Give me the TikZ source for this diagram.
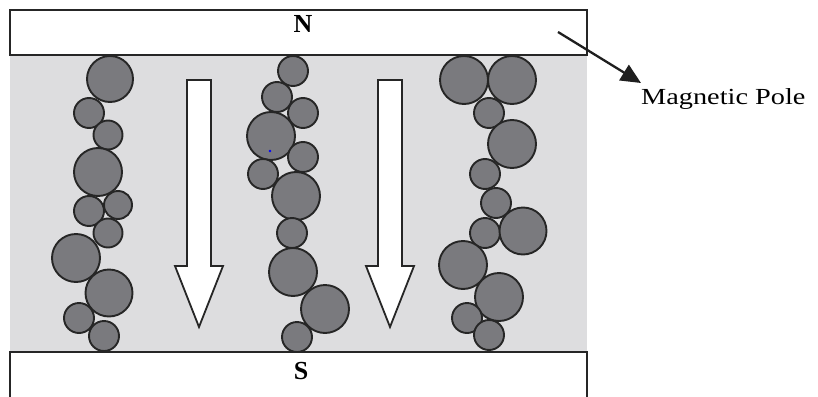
\documentclass[tikz,border=0pt]{standalone}
\usepackage{fontspec}
\setmainfont{Liberation Serif}
\usetikzlibrary{arrows.meta}
\definecolor{fluid}{RGB}{221,221,223}
\definecolor{particle}{RGB}{122,122,126}
\definecolor{edge}{RGB}{38,38,38}
\tikzset{
  x=1pt, y=-1pt,
  polebar/.style={draw=edge, line width=2pt, fill=white},
  ball/.style={draw=edge, line width=1.9pt, fill=particle},
  flowarrow/.style={draw=edge, line width=1.8pt, fill=white, line join=miter},
  polelabel/.style={font=\fontsize{26}{26}\selectfont\bfseries, inner sep=0pt},
  sidelabel/.style={font=\fontsize{23}{23}\selectfont, inner sep=0pt, anchor=west},
  leader/.style={draw=black!88, line width=2.3pt, -{Triangle[length=20pt,width=18pt]}}
}
\begin{document}
\begin{tikzpicture}
\useasboundingbox (0,0) rectangle (818,396);
% fluid gap between the poles
\fill[fluid] (10,55) rectangle (587,352);
% pole pieces
\draw[polebar] (10,10) rectangle (587,55);
\draw[polebar] (10,352) rectangle (587,400);
\node[polelabel] (north) at (303,24) {N};
\node[polelabel] (south) at (301,371) {S};
% field direction arrows
\foreach \cx in {199,390}{
  \draw[flowarrow] (\cx-12,80) -- (\cx+12,80) -- (\cx+12,266) -- (\cx+24,266)
    -- (\cx,327) -- (\cx-24,266) -- (\cx-12,266) -- cycle;
}
% particle chains aligned with the field
\foreach \px/\py/\r in {
  110/79/23, 89/113/15, 108/135/14.5, 98/172/24, 118/205/14, 89/211/15,
  108/233/14.5, 76/258/24, 109/293/23.5, 79/318/15, 104/336/15,
  293/71/15, 277/97/15, 303/113/15, 271/136/24, 303/157/15, 263/174/15,
  296/196/24, 292/233/15, 293/272/24, 325/309/24, 297/337/15,
  464/80/24, 512/80/24, 489/113/15, 512/144/24, 485/174/15, 496/203/15,
  485/233/15, 523/231/23.5, 463/265/24, 499/297/24, 467/318/15, 489/335/15}{
  \draw[ball] (\px,\py) circle (\r);
}
\fill[blue] (270,151) circle (1.4);
% label for the pole piece
\coordinate (leadstart) at (558,32);
\node[sidelabel] (pole) at (641,99) {\scalebox{1.23}[1]{Magnetic Pole}};
\coordinate (leadend) at (641,83);
\draw[leader] (leadstart) -- (leadend);
\end{tikzpicture}
\end{document}
